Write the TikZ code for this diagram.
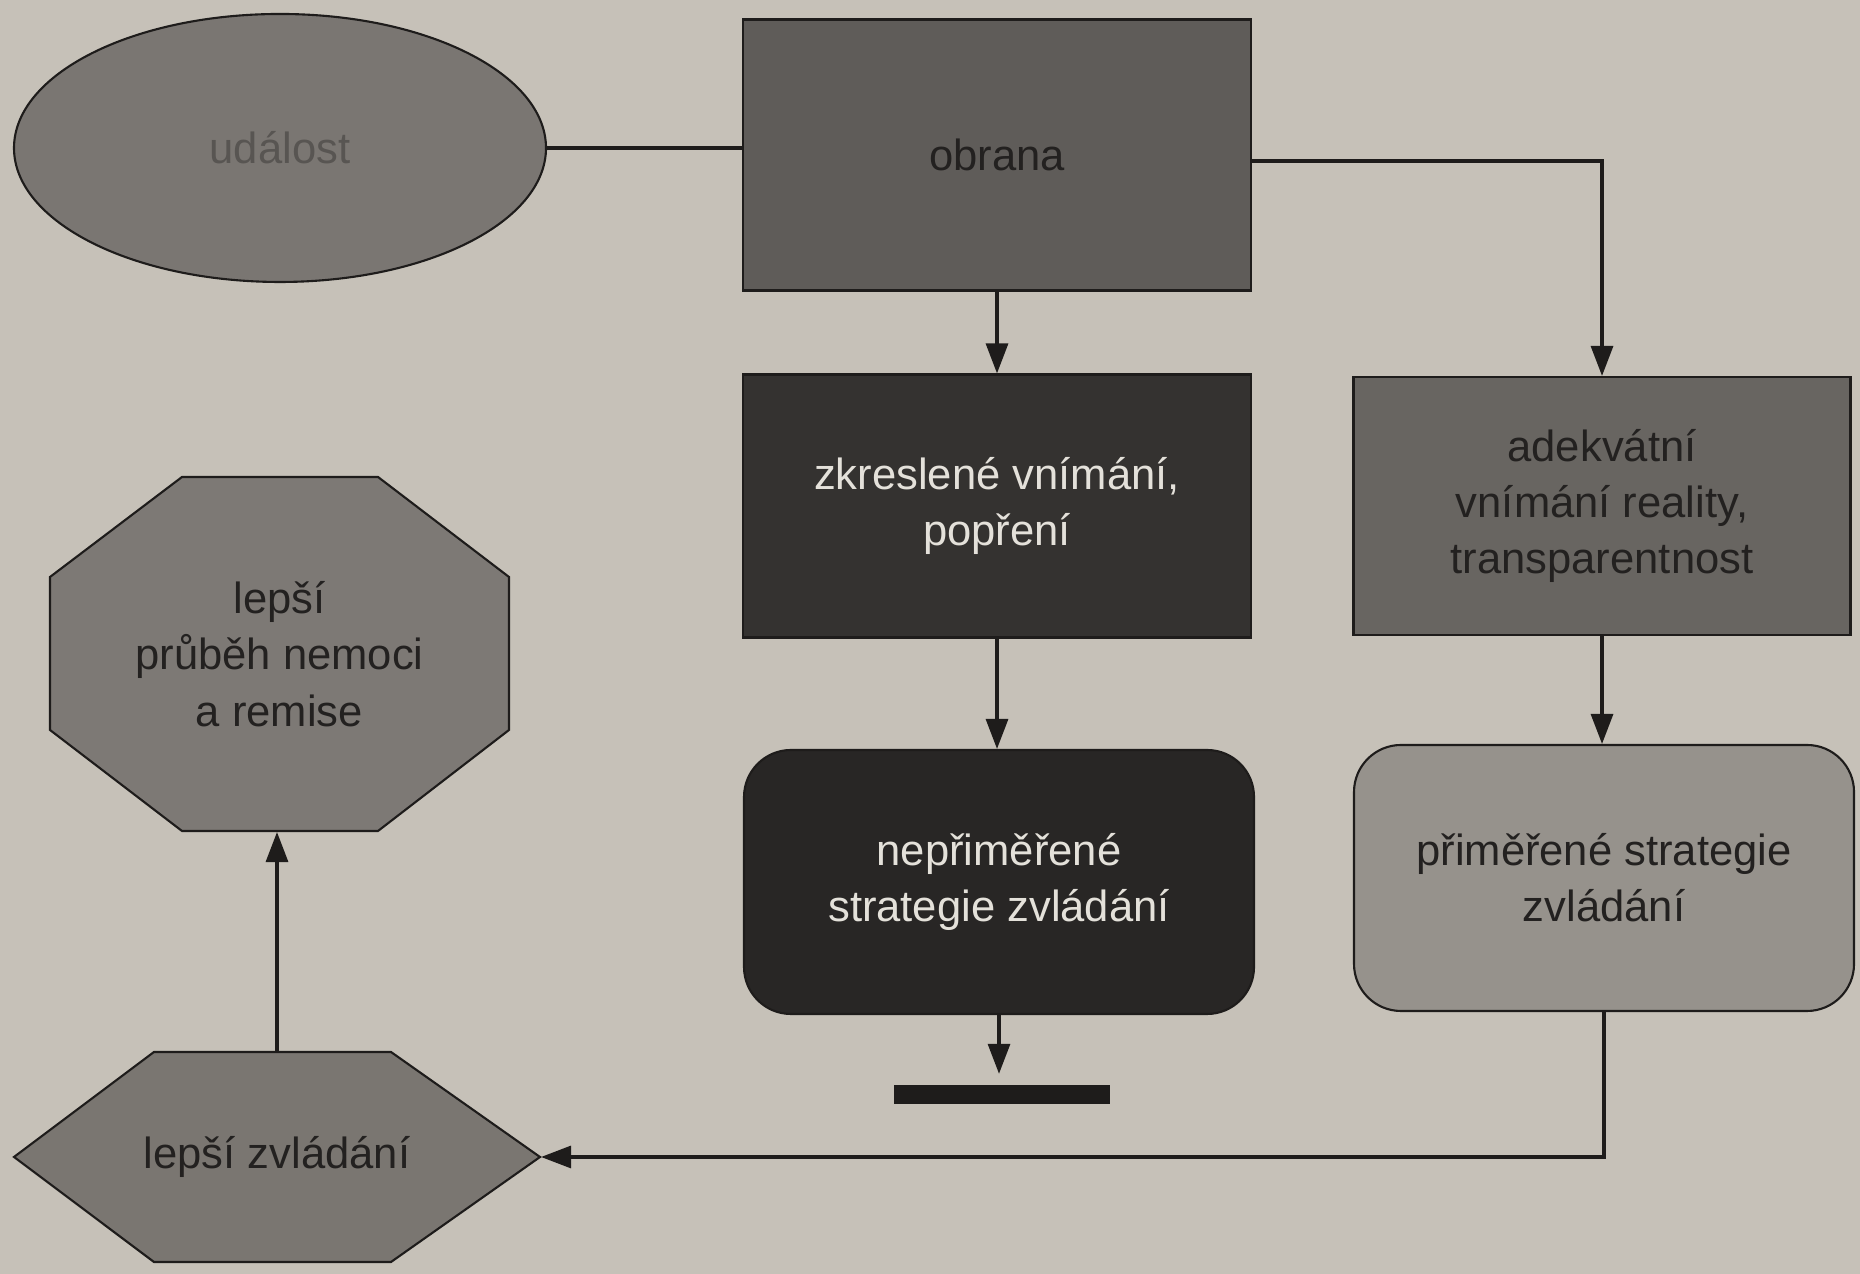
\documentclass[tikz,border=0pt]{standalone}
\usepackage{fontspec}
\setmainfont{Liberation Sans}
\usetikzlibrary{positioning}
\usetikzlibrary{shapes.geometric}
\usetikzlibrary{arrows.meta}

\definecolor{paper}{RGB}{198,193,184}
\definecolor{edge}{RGB}{30,28,27}
\definecolor{light}{RGB}{228,225,218}
\definecolor{dark}{RGB}{35,33,32}
\definecolor{evfill}{RGB}{122,118,114}
\definecolor{evtext}{RGB}{88,85,82}
\definecolor{obfill}{RGB}{95,92,89}
\definecolor{zkfill}{RGB}{52,50,48}
\definecolor{adfill}{RGB}{104,101,97}
\definecolor{nefill}{RGB}{40,38,37}
\definecolor{prfill}{RGB}{150,146,140}
\definecolor{vyfill}{RGB}{125,121,117}
\definecolor{lefill}{RGB}{122,118,113}

\tikzset{
  box/.style={draw=edge, line width=0.6pt, rectangle, align=center,
    inner sep=0pt, text=dark, font=\fontsize{12.4}{16}\selectfont},
  roundbox/.style={box, rounded corners=0.47cm},
  cut/.style={box, draw=none},
  cutshape/.style={draw=edge, line width=0.6pt},
  conn/.style={draw=edge, line width=0.9pt},
  arr/.style={conn, -{Triangle[length=3mm,width=2.2mm]}},
}

\begin{document}
\begin{tikzpicture}
\fill[paper] (0,0) rectangle (18.6,12.74);
\useasboundingbox (0,0) rectangle (18.6,12.74);

% octagon and hexagon outlines
\filldraw[cutshape, fill=vyfill] (1.82,7.97) -- (3.78,7.97) -- (5.09,6.97) -- (5.09,5.44)
  -- (3.78,4.43) -- (1.82,4.43) -- (0.50,5.44) -- (0.50,6.97) -- cycle;
\filldraw[cutshape, fill=lefill] (1.54,2.22) -- (3.91,2.22) -- (5.40,1.17)
  -- (3.91,0.12) -- (1.54,0.12) -- (0.14,1.17) -- cycle;

\node[box, ellipse, fill=evfill, text=evtext, minimum width=5.32cm, minimum height=2.68cm] (event) at (2.80,11.26) {událost};
\node[box, fill=obfill, minimum width=5.08cm, minimum height=2.71cm] (obrana) at (9.97,11.19) {obrana};
\node[box, fill=zkfill, text=light, minimum width=5.08cm, minimum height=2.63cm] (zkresl) at (9.97,7.68) {zkreslené vnímání,\\popření};
\node[box, fill=adfill, minimum width=4.97cm, minimum height=2.58cm] (adekv) at (16.02,7.68) {adekvátní\\vnímání reality,\\transparentnost};
\node[roundbox, fill=nefill, text=light, minimum width=5.10cm, minimum height=2.64cm] (neprim) at (9.99,3.92) {nepřiměřené\\strategie zvládání};
\node[roundbox, fill=prfill, minimum width=5.0cm, minimum height=2.66cm] (prim) at (16.04,3.96) {přiměřené strategie\\zvládání};
\node[cut, minimum width=4.59cm, minimum height=3.54cm] (vysledek) at (2.795,6.20) {lepší\\průběh nemoci\\a remise};
\node[cut, minimum width=5.26cm, minimum height=2.10cm] (lepsi) at (2.77,1.17) {lepší zvládání};
\node[fill=edge, minimum width=2.16cm, minimum height=0.19cm, inner sep=0pt] (konec) at (10.02,1.79) {};

\draw[conn] (event.east) -- (event.east -| obrana.west);
\draw[arr] (obrana) -- (zkresl);
\draw[arr] ([yshift=-0.6mm]obrana.east) -| (adekv.north);
\draw[arr] (zkresl.south) -- (zkresl.south |- neprim.north);
\draw[arr] (adekv.south) -- (adekv.south |- prim.north);
\draw[arr, shorten >=1.1mm] (neprim.south) -- (neprim.south |- konec.north);
\draw[arr] (prim.south) |- (lepsi.east);
\draw[arr] (lepsi.north) -- (lepsi.north |- vysledek.south);
\end{tikzpicture}
\end{document}
